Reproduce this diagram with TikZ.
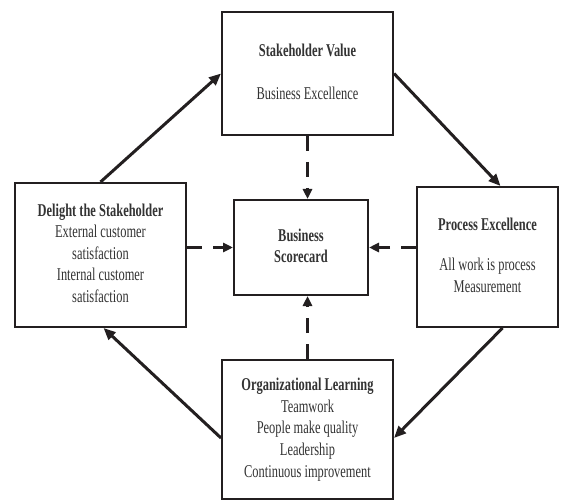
\documentclass[tikz,border=0pt]{standalone}
\usepackage{fontspec}
\setmainfont{Liberation Serif}
\usepackage{graphicx}
\usetikzlibrary{arrows.meta,calc}
\definecolor{ink}{HTML}{231F20}
\definecolor{txt}{HTML}{333333}
\newcommand{\sq}[1]{\scalebox{0.69}[1]{\begin{tabular}{@{}c@{}}#1\end{tabular}}}
\tikzset{
  box/.style={draw=ink, line width=2pt, inner sep=0pt, text=txt, fill=white,
    font=\fontsize{18}{21.6}\selectfont},
  arr/.style={draw=ink, line width=3pt, -{Triangle[length=12pt,width=10pt]}},
  darr/.style={draw=ink, line width=3.5pt, dash pattern=on 15pt off 11pt,
    -{Triangle[length=10pt,width=9pt]}}
}
\begin{document}
\begin{tikzpicture}[x=1pt,y=-1pt]
\useasboundingbox[fill=white] (0,0) rectangle (564,502);
\node[box, minimum width=171pt, minimum height=123pt] (T) at (307.5,73.5)
  {\sq{\textbf{Stakeholder Value}\\[21.4pt] Business Excellence}};
\node[box, minimum width=171pt, minimum height=144pt] (L) at (100.5,255)
  {\sq{\textbf{Delight the Stakeholder}\\ External customer\\ satisfaction\\ Internal customer\\ satisfaction}};
\node[box, minimum width=141pt, minimum height=140pt] (R) at (487.5,257)
  {\sq{\textbf{Process Excellence}\\[18.4pt] All work is process\\ Measurement}};
\node[box, minimum width=134pt, minimum height=95pt] (C) at (301,247.5)
  {\sq{\textbf{Business}\\ \textbf{Scorecard}}};
\node[box, minimum width=171pt, minimum height=139pt] (B) at (307.5,429.5)
  {\sq{\textbf{Organizational Learning}\\ Teamwork\\ People make quality\\ Leadership\\ Continuous improvement}};
\draw[arr] (L.north) -- (T.west);
\draw[arr] (T.east) -- ([xshift=13pt]R.north);
\draw[arr] ([xshift=15pt]R.south) -- ([yshift=-8.5pt]B.east);
\draw[arr] ([yshift=-8.5pt]B.west) -- ([xshift=3pt]L.south);
\draw[darr] (T.south) -- (T.south |- C.north);
\draw[darr] (B.north) -- (B.north |- C.south);
\draw[darr] (C.west -| L.east) -- (C.west);
\draw[darr] (C.east -| R.west) -- (C.east);
\end{tikzpicture}
\end{document}
